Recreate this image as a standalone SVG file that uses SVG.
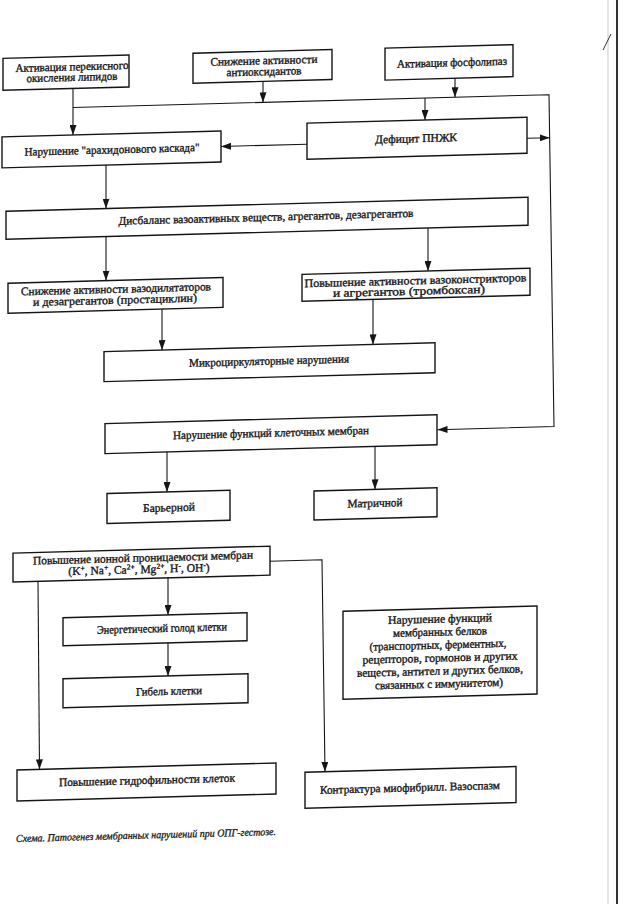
<svg xmlns="http://www.w3.org/2000/svg" width="629" height="904" viewBox="0 0 629 904">
<style>
.box{fill:#fff;stroke:#151515;stroke-width:1.4}
.c{fill:none;stroke:#151515;stroke-width:1.1}
.t{font-family:"Liberation Serif","Times New Roman",serif;font-size:11.5px;fill:#151515;stroke:#151515;stroke-width:0.35;text-anchor:middle}
.cap{font-family:"Liberation Serif","Times New Roman",serif;font-size:10.5px;font-style:italic;fill:#151515;stroke:#151515;stroke-width:0.3}
.edge{stroke:#333;stroke-width:2}
.edge2{stroke:#c8c8c8;stroke-width:1}
</style>
<defs>
<marker id="ah" markerUnits="userSpaceOnUse" markerWidth="10" markerHeight="7" refX="10" refY="3.5" orient="auto">
<path d="M0,0 L10,3.5 L0,7 z" fill="#151515"/>
</marker>
</defs>
<rect x="0" y="0" width="629" height="904" fill="#fff"/>
<line class="edge2" x1="608" y1="0" x2="608" y2="904"/>
<line class="edge" x1="617" y1="0" x2="617" y2="904"/>
<line class="edge" x1="603" y1="50" x2="611" y2="34" style="stroke-width:1"/>
<g transform="matrix(1,-0.0268,0,1,0,8.42)">
<g id="connectors">
<path class="c" d="M263,80 V101" marker-end="url(#ah)"/>
<path class="c" d="M455,82 V101" marker-end="url(#ah)"/>
<path class="c" d="M73,82 V128.5" marker-end="url(#ah)"/>
<path class="c" d="M73,101 H549 L554,433 H437.5" marker-end="url(#ah)"/>
<path class="c" d="M425,101 V123" marker-end="url(#ah)"/>
<path class="c" d="M527,144 H549.6" marker-end="url(#ah)"/>
<path class="c" d="M307,144 H221" marker-end="url(#ah)"/>
<path class="c" d="M106,159.5 V203" marker-end="url(#ah)"/>
<path class="c" d="M106,231 V275" marker-end="url(#ah)"/>
<path class="c" d="M428,231 V274" marker-end="url(#ah)"/>
<path class="c" d="M162,305 V346" marker-end="url(#ah)"/>
<path class="c" d="M373,301 V346" marker-end="url(#ah)"/>
<path class="c" d="M167,448 V488" marker-end="url(#ah)"/>
<path class="c" d="M375,448 V491" marker-end="url(#ah)"/>
<path class="c" d="M270,560 H322 L325,772" marker-end="url(#ah)"/>
<path class="c" d="M38,574 L39.5,762" marker-end="url(#ah)"/>
<path class="c" d="M168,574 V611" marker-end="url(#ah)"/>
<path class="c" d="M168,639 V672" marker-end="url(#ah)"/>
</g>
<g id="n-lipid">
<rect class="box" x="3" y="50" width="126" height="32"/>
<text class="t" x="72" y="64" textLength="113" lengthAdjust="spacingAndGlyphs">Активация перекисного</text>
<text class="t" x="72" y="74.5" textLength="91" lengthAdjust="spacingAndGlyphs">окисления липидов</text>
</g>
<g id="n-antiox">
<rect class="box" x="193" y="50" width="139" height="30"/>
<text class="t" x="264" y="63" textLength="107" lengthAdjust="spacingAndGlyphs">Снижение активности</text>
<text class="t" x="264" y="74" textLength="75" lengthAdjust="spacingAndGlyphs">антиоксидантов</text>
</g>
<g id="n-phospholipase">
<rect class="box" x="385" y="50" width="128" height="32"/>
<text class="t" x="452" y="70" textLength="110" lengthAdjust="spacingAndGlyphs">Активация фосфолипаз</text>
</g>
<g id="n-deficit">
<rect class="box" x="307" y="123" width="220" height="36"/>
<text class="t" x="416" y="145" textLength="82" lengthAdjust="spacingAndGlyphs">Дефицит ПНЖК</text>
</g>
<g id="n-arach">
<rect class="box" x="2" y="128.5" width="219" height="31"/>
<text class="t" x="112" y="148" textLength="175" lengthAdjust="spacingAndGlyphs">Нарушение "арахидонового каскада"</text>
</g>
<g id="n-disbalance">
<rect class="box" x="6" y="203" width="522" height="28"/>
<text class="t" x="266" y="219.5" textLength="295" lengthAdjust="spacingAndGlyphs">Дисбаланс вазоактивных веществ, агрегантов, дезагрегантов</text>
</g>
<g id="n-vasodil">
<rect class="box" x="8" y="275" width="215" height="30"/>
<text class="t" x="116" y="287.5" textLength="190" lengthAdjust="spacingAndGlyphs">Снижение активности вазодилятаторов</text>
<text class="t" x="115" y="298.5" textLength="164" lengthAdjust="spacingAndGlyphs">и дезагрегантов (простациклин)</text>
</g>
<g id="n-vasocon">
<rect class="box" x="302" y="274" width="228" height="27"/>
<text class="t" x="415.5" y="287" textLength="222" lengthAdjust="spacingAndGlyphs">Повышение активности вазоконстрикторов</text>
<text class="t" x="409" y="297.5" textLength="152" lengthAdjust="spacingAndGlyphs">и агрегантов (тромбоксан)</text>
</g>
<g id="n-micro">
<rect class="box" x="104" y="346" width="331" height="30"/>
<text class="t" x="269" y="363.5" textLength="160" lengthAdjust="spacingAndGlyphs">Микроциркуляторные нарушения</text>
</g>
<g id="n-membr">
<rect class="box" x="105" y="418" width="332" height="30"/>
<text class="t" x="271" y="435.5" textLength="196" lengthAdjust="spacingAndGlyphs">Нарушение функций клеточных мембран</text>
</g>
<g id="n-barrier">
<rect class="box" x="107" y="488" width="123" height="30"/>
<text class="t" x="169" y="507.5" textLength="52" lengthAdjust="spacingAndGlyphs">Барьерной</text>
</g>
<g id="n-matrix">
<rect class="box" x="314" y="491" width="123" height="29"/>
<text class="t" x="375" y="508.5" textLength="55" lengthAdjust="spacingAndGlyphs">Матричной</text>
</g>
<g id="n-ion">
<rect class="box" x="13" y="545" width="257" height="29"/>
<text class="t" x="143" y="557" textLength="220" lengthAdjust="spacingAndGlyphs">Повышение ионной проницаемости мембран</text>
<text class="t" x="139" y="568.5">(K<tspan dy="-4" font-size="7.5">+</tspan><tspan dy="4">, Na</tspan><tspan dy="-4" font-size="7.5">+</tspan><tspan dy="4">, Ca</tspan><tspan dy="-4" font-size="7.5">2+</tspan><tspan dy="4">, Mg</tspan><tspan dy="-4" font-size="7.5">2+</tspan><tspan dy="4">, H</tspan><tspan dy="-4" font-size="7.5">-</tspan><tspan dy="4">, OH</tspan><tspan dy="-4" font-size="7.5">-</tspan><tspan dy="4">)</tspan></text>
</g>
<g id="n-energy">
<rect class="box" x="63" y="611" width="184" height="28"/>
<text class="t" x="162" y="628" textLength="130" lengthAdjust="spacingAndGlyphs">Энергетический голод клетки</text>
</g>
<g id="n-death">
<rect class="box" x="63" y="672" width="185" height="29"/>
<text class="t" x="169" y="691" textLength="66" lengthAdjust="spacingAndGlyphs">Гибель клетки</text>
</g>
<g id="n-proteins">
<rect class="box" x="343" y="612" width="194" height="88"/>
<text class="t" x="440" y="626" textLength="104" lengthAdjust="spacingAndGlyphs">Нарушение функций</text>
<text class="t" x="440" y="639" textLength="94" lengthAdjust="spacingAndGlyphs">мембранных белков</text>
<text class="t" x="438" y="652" textLength="137" lengthAdjust="spacingAndGlyphs">(транспортных, ферментных,</text>
<text class="t" x="440" y="665" textLength="155" lengthAdjust="spacingAndGlyphs">рецепторов, гормонов и других</text>
<text class="t" x="440" y="678" textLength="166" lengthAdjust="spacingAndGlyphs">веществ, антител и других белков,</text>
<text class="t" x="439" y="691" textLength="128" lengthAdjust="spacingAndGlyphs">связанных с иммунитетом)</text>
</g>
<g id="n-hydro">
<rect class="box" x="17" y="762" width="259" height="31"/>
<text class="t" x="147" y="779.5" textLength="176" lengthAdjust="spacingAndGlyphs">Повышение гидрофильности клеток</text>
</g>
<g id="n-contract">
<rect class="box" x="305" y="772" width="211" height="36"/>
<text class="t" x="410" y="794" textLength="180" lengthAdjust="spacingAndGlyphs">Контрактура миофибрилл. Вазоспазм</text>
</g>
<text class="cap" x="16" y="834" textLength="260" lengthAdjust="spacingAndGlyphs">Схема. Патогенез мембранных нарушений при ОПГ-гестозе.</text>
</g>
</svg>
